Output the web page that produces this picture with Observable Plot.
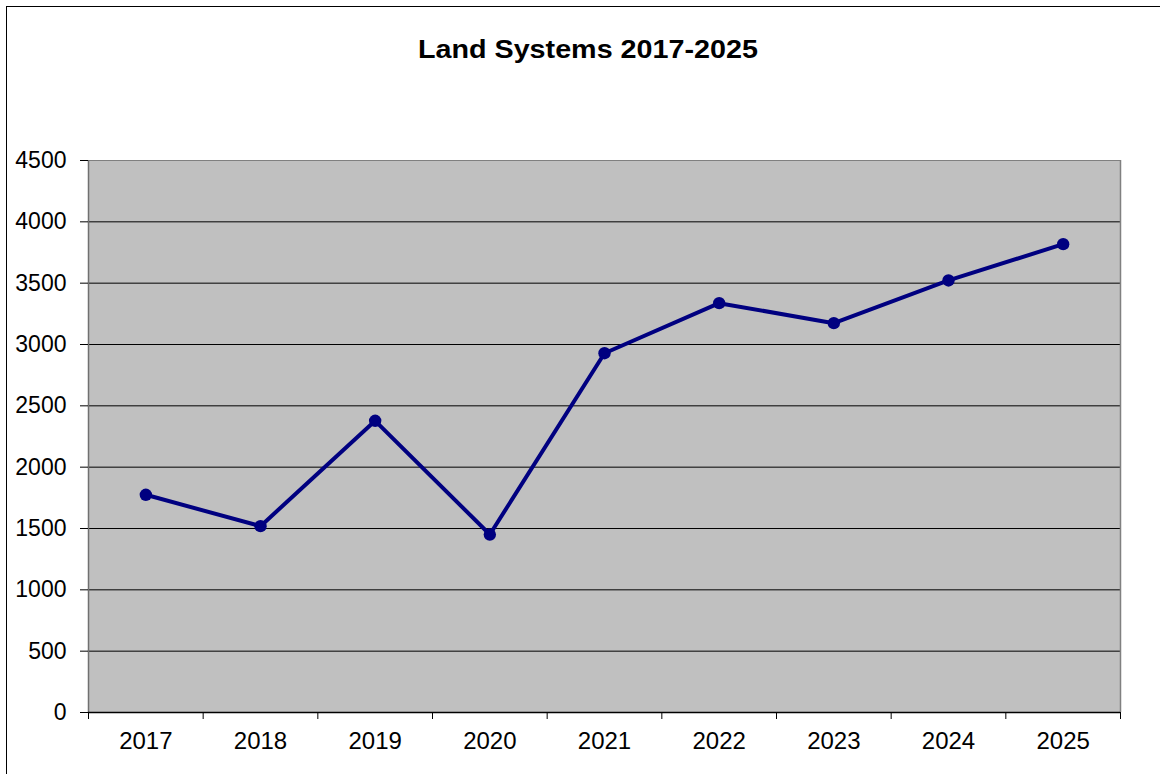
<!DOCTYPE html>
<html>
<head>
<meta charset="utf-8">
<script src="https://cdn.jsdelivr.net/npm/d3@7"></script>
<script src="https://cdn.jsdelivr.net/npm/@observablehq/plot@0.6"></script>
<style>
html, body { margin: 0; padding: 0; background: #fff; width: 1160px; height: 774px; overflow: hidden; }
#border { position: absolute; left: 6px; top: 6px; width: 1300px; height: 900px; border-left: 1.5px solid #000; border-top: 1.5px solid #000; }
#title { position: absolute; top: 35.5px; left: 0; white-space: nowrap; font-family: "Liberation Sans", Arial, sans-serif; font-weight: bold; font-size: 26px; line-height: 26px; color: #000; transform-origin: center center; }
#chart { position: absolute; left: 0; top: 100px; }
</style>
</head>
<body>
<div id="border"></div>
<div id="title">Land Systems 2017-2025</div>
<div id="chart"></div>
<script>
const years = [2017, 2018, 2019, 2020, 2021, 2022, 2023, 2024, 2025];
const values = [1775, 1519, 2378, 1451, 2929, 3337, 3174, 3522, 3818];
const yTicks = [0, 500, 1000, 1500, 2000, 2500, 3000, 3500, 4000, 4500];
const xTickLabels = ["2017", "2018", "2019", "2020", "2021", "2022", "2023", "2024", "2025"];

const data = years.map((year, i) => ({year, value: values[i]}));
const edges = years.map(y => y - 0.5).concat([years[years.length - 1] + 0.5]);

const chart = Plot.plot({
  width: 1160,
  height: 674,
  marginTop: 60,
  marginBottom: 62,
  marginLeft: 88,
  marginRight: 40,
  style: {fontFamily: "'Liberation Sans', Arial, sans-serif", background: "transparent", color: "#000"},
  x: {type: "linear", domain: [edges[0], edges[edges.length - 1]]},
  y: {domain: [0, 4500]},
  marks: [
    Plot.frame({fill: "#c0c0c0", stroke: null}),
    Plot.ruleY(yTicks.filter(t => t > 0 && t < 4500), {stroke: "#000", strokeWidth: 1}),
    Plot.ruleY([4500], {stroke: "#808080", strokeWidth: 1}),
    Plot.ruleX([edges[0]], {stroke: "#707070", strokeWidth: 1.5}),
    Plot.ruleX([edges[edges.length - 1]], {stroke: "#808080", strokeWidth: 1.5}),
    Plot.ruleY([0], {stroke: "#000", strokeWidth: 1.5}),
    Plot.axisY({ticks: yTicks, tickSize: 8, tickPadding: 14, fontSize: 23, label: null, tickFormat: d => String(d)}),
    Plot.axisX({ticks: years, tickSize: 0, tickPadding: 19, fontSize: 24, label: null, tickFormat: d => xTickLabels[years.indexOf(d)]}),
    Plot.axisX({ticks: edges, tickSize: 7, tickPadding: 0, label: null, tickFormat: () => ""}),
    Plot.line(data, {x: "year", y: "value", stroke: "#000080", strokeWidth: 4}),
    Plot.dot(data, {x: "year", y: "value", r: 6.2, fill: "#000080", stroke: null})
  ]
});
document.getElementById("chart").appendChild(chart);

// title: centred over the chart, stretched to match the reference's wide lettering
const title = document.getElementById("title");
const w = title.getBoundingClientRect().width;
const targetW = 340;
title.style.left = (587.5 - w / 2) + "px";
title.style.transform = `scaleX(${targetW / w})`;
</script>
</body>
</html>
